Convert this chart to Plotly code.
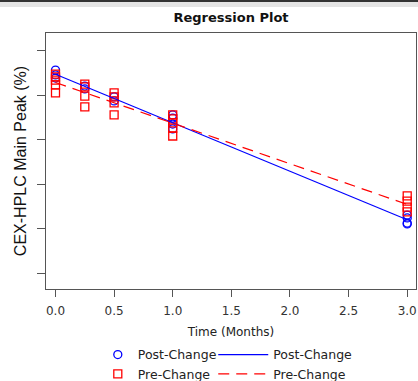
import numpy as np
import plotly.graph_objects as go

# Stability data: CEX-HPLC main peak (%) by time point
post_time = [0, 0, 0, 0.25, 0.25, 0.5, 0.5, 1, 1, 1, 1, 3, 3, 3, 3]
post_peak = [69.14, 68.92, 68.78, 68.42, 68.29, 67.93, 67.75,
             67.12, 66.98, 66.71, 66.49, 62.61, 62.48, 62.25, 62.21]

pre_time = [0, 0, 0, 0, 0, 0.25, 0.25, 0.25, 0.25, 0.5, 0.5, 0.5, 0.5,
            1, 1, 1, 1, 1, 3, 3, 3, 3]
pre_peak = [68.96, 68.83, 68.69, 68.47, 68.11, 68.51, 68.38, 67.97, 67.48,
            68.11, 67.93, 67.66, 67.12, 67.12, 66.94, 66.76, 66.53, 66.17,
            63.47, 63.24, 62.97, 62.75]

x_ticks = [0, 0.5, 1, 1.5, 2, 2.5, 3]
x_tick_text = ["0.0", "0.5", "1.0", "1.5", "2.0", "2.5", "3.0"]
y_ticks = [60, 62, 64, 66, 68, 70]

BLUE = "#0000ff"
RED = "#ff0000"

# least-squares regression lines for each group
fit_x = np.array([0.0, 3.0])
post_coef = np.polyfit(post_time, post_peak, 1)
pre_coef = np.polyfit(pre_time, pre_peak, 1)

fig = go.Figure()

fig.add_trace(go.Scatter(
    x=post_time, y=post_peak, mode="markers", name="Post-Change",
    marker=dict(symbol="circle-open", size=8, color=BLUE, line=dict(width=1.3)),
    legend="legend",
))
fig.add_trace(go.Scatter(
    x=pre_time, y=pre_peak, mode="markers", name="Pre-Change",
    marker=dict(symbol="square-open", size=8, color=RED, line=dict(width=1.3)),
    legend="legend",
))
fig.add_trace(go.Scatter(
    x=fit_x, y=np.polyval(post_coef, fit_x), mode="lines", name="Post-Change",
    line=dict(color=BLUE, width=1.2),
    legend="legend2",
))
fig.add_trace(go.Scatter(
    x=fit_x, y=np.polyval(pre_coef, fit_x), mode="lines", name="Pre-Change",
    line=dict(color=RED, width=1.2, dash="11px,7px"),
    legend="legend2",
))

legend_font = dict(family="DejaVu Sans", size=12.5, color="#222222")

fig.update_layout(
    width=418, height=381,
    margin=dict(l=46, r=2, t=33, b=92, autoexpand=False),
    paper_bgcolor="white", plot_bgcolor="white",
    font=dict(family="DejaVu Sans", size=12, color="#222222"),
    title=dict(
        text="<b>Regression Plot</b>", x=0.5, xref="paper", xanchor="center",
        y=1 - 17 / 381, yref="container", yanchor="middle",
        font=dict(family="DejaVu Sans", size=13, color="#111111"),
    ),
    xaxis=dict(
        range=[-0.081, 3.075], tickvals=x_ticks, ticktext=x_tick_text,
        ticks="outside", ticklen=7, tickcolor="#555555", tickwidth=1,
        ticklabelstandoff=4,
        showline=True, linecolor="#555555", linewidth=1, mirror=True,
        showgrid=False, zeroline=False,
        tickfont=dict(family="DejaVu Sans", size=12, color="#333333"),
        title=dict(text="Time (Months)", standoff=10,
                   font=dict(family="DejaVu Sans", size=12, color="#222222")),
    ),
    yaxis=dict(
        range=[59.28, 70.81], tickvals=y_ticks, showticklabels=False,
        ticks="outside", ticklen=8, tickcolor="#555555", tickwidth=1,
        showline=True, linecolor="#555555", linewidth=1, mirror=True,
        showgrid=False, zeroline=False,
        title=dict(text="CEX-HPLC Main Peak (%)", standoff=6,
                   font=dict(family="Liberation Sans", size=16, color="#111111")),
    ),
    legend=dict(
        x=0.14, y=-0.199, xanchor="left", yanchor="top",
        bgcolor="rgba(0,0,0,0)", font=legend_font, tracegroupgap=0,
    ),
    legend2=dict(
        x=0.452, y=-0.199, xanchor="left", yanchor="top", itemwidth=50,
        bgcolor="rgba(0,0,0,0)", font=legend_font, tracegroupgap=0,
    ),
    shapes=[
        dict(type="rect", xref="paper", yref="paper",
             x0=-0.2, x1=1.1, y0=1.1016, y1=1.1289,
             fillcolor="#e4e4e4", line=dict(width=0), layer="above"),
        dict(type="line", xref="paper", yref="paper",
             x0=-0.2, x1=1.1, y0=1.1250, y1=1.1250,
             line=dict(color="#333333", width=2), layer="above"),
    ],
)

fig.write_html("out.html")
